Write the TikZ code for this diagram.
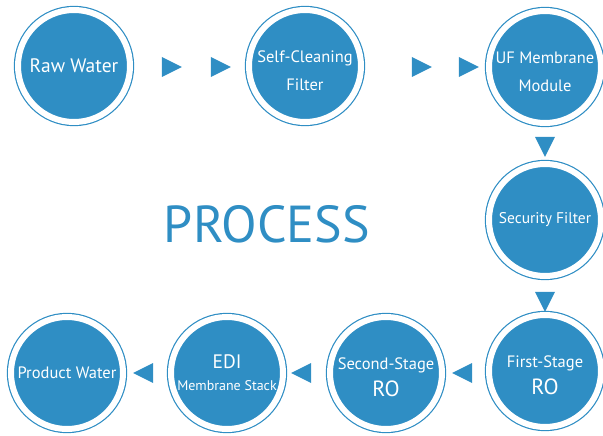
\documentclass[tikz,border=0pt]{standalone}
\usepackage{fontspec}
\setmainfont{PT Sans}
\usetikzlibrary{shapes.geometric}
\definecolor{waterblue}{RGB}{47,142,196}

\tikzset{
  stage/.style={circle, fill=waterblue, draw=waterblue, line width=1.2pt,
    double=white, double distance=6pt, minimum size=112pt,
    inner sep=0pt, outer sep=0pt, text=white, align=center},
  pointer/.style={isosceles triangle, isosceles triangle stretches,
    fill=waterblue, minimum width=20pt, minimum height=20pt, inner sep=0pt},
}
\newcommand{\lowerstrut}{\rule{0pt}{21pt}}

\begin{document}
\begin{tikzpicture}[x=1pt,y=-1pt]
\useasboundingbox (0,0) rectangle (603,436);
% top row
\node[stage, font=\fontsize{19.5}{22}\selectfont] (raw) at (74,66) {Raw Water};
\node[stage, font=\fontsize{16.5}{28}\selectfont] (selfclean) at (305,66) {\lowerstrut Self-Cleaning\\Filter};
\node[stage, font=\fontsize{16.5}{28}\selectfont] (uf) at (545,67) {\lowerstrut UF Membrane\\Module};
% right column
\node[stage, font=\fontsize{15.5}{18}\selectfont] (security) at (545,220) {Security Filter};
\node[stage, font=\fontsize{16.5}{27}\selectfont] (firstro) at (545,371) {\lowerstrut First-Stage\\\fontsize{22}{27}\selectfont RO};
% bottom row
\node[stage, font=\fontsize{16.5}{27}\selectfont] (secondro) at (386,373) {\lowerstrut Second-Stage\\\fontsize{22}{27}\selectfont RO};
\node[stage, font=\fontsize{19.5}{22}\selectfont] (edi) at (227,373) {EDI\\\fontsize{14}{22}\selectfont Membrane Stack};
\node[stage, font=\fontsize{16.5}{18}\selectfont] (product) at (67,373) {Product Water};
% pointers
\node[pointer] (p1) at (168,67) {};
\node[pointer] (p2) at (217,67) {};
\node[pointer] (p3) at (418,67) {};
\node[pointer] (p4) at (465,67) {};
\node[pointer, shape border rotate=270] (p5) at (545,143) {};
\node[pointer, shape border rotate=270] (p6) at (545,298) {};
\node[pointer, shape border rotate=180] (p7) at (466,373) {};
\node[pointer, shape border rotate=180] (p8) at (305,373) {};
\node[pointer, shape border rotate=180] (p9) at (147,373) {};
% title
\node[text=waterblue, font=\fontsize{52}{52}\selectfont] (title) at (267,224) {PROCESS};
\end{tikzpicture}
\end{document}
